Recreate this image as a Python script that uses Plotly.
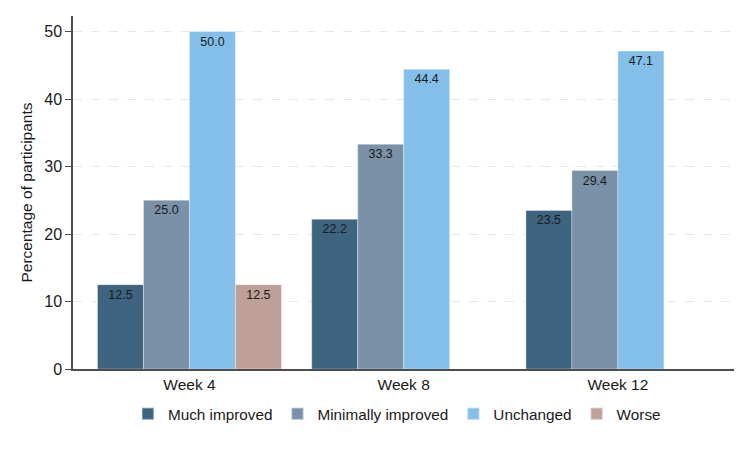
import plotly.graph_objects as go

weeks = ["Week 4", "Week 8", "Week 12"]
series_names = ["Much improved", "Minimally improved", "Unchanged", "Worse"]
much_improved = [12.5, 22.2, 23.5]
minimally_improved = [25.0, 33.3, 29.4]
unchanged = [50.0, 44.4, 47.1]
worse = [12.5, None, None]
colors = ["#3e6480", "#7b91a8", "#83bfe9", "#bfa099"]

all_series = [much_improved, minimally_improved, unchanged, worse]

fig = go.Figure()
for name, vals, col in zip(series_names, all_series, colors):
    fig.add_trace(go.Bar(
        x=weeks, y=vals, name=name,
        marker=dict(color=col, line=dict(color="rgba(255,255,255,0.35)", width=1)),
        text=["" if v is None else f"{v:.1f}" for v in vals],
        textposition="inside", insidetextanchor="end",
        textfont=dict(size=12.5, color="#1a1a1a", family="Liberation Sans, Arial, sans-serif"),
        constraintext="none",
        hoverinfo="skip",
    ))

fig.update_layout(
    width=750, height=450,
    margin=dict(l=72.5, r=16, t=16, b=81),
    paper_bgcolor="white", plot_bgcolor="white",
    barmode="group", bargap=0.1414, bargroupgap=0,
    font=dict(family="Liberation Sans, Arial, sans-serif", size=15, color="#1a1a1a"),
    showlegend=True,
    legend=dict(orientation="h", x=0.49, xanchor="center", y=-0.127, yanchor="middle",
                font=dict(size=15.3), itemsizing="constant", traceorder="normal"),
    uniformtext=dict(mode=False),
)
fig.update_xaxes(
    type="category", range=[-0.5436, 2.542],
    showline=True, linecolor="#4d4d4d", linewidth=1.5,
    ticks="", showgrid=False, tickfont=dict(size=15.5),
    ticklabelstandoff=1,
)
fig.update_yaxes(
    range=[0, 52.3], tickvals=[0, 10, 20, 30, 40, 50],
    showline=True, linecolor="#4d4d4d", linewidth=1.5,
    ticks="outside", ticklen=6, tickcolor="#4d4d4d", tickwidth=1,
    showgrid=True, gridcolor="#e8e8e8", griddash="dash", gridwidth=1,
    zeroline=False, tickfont=dict(size=16),
    title=dict(text="Percentage of participants", font=dict(size=15.5), standoff=8),
)

fig.write_html("out.html")
